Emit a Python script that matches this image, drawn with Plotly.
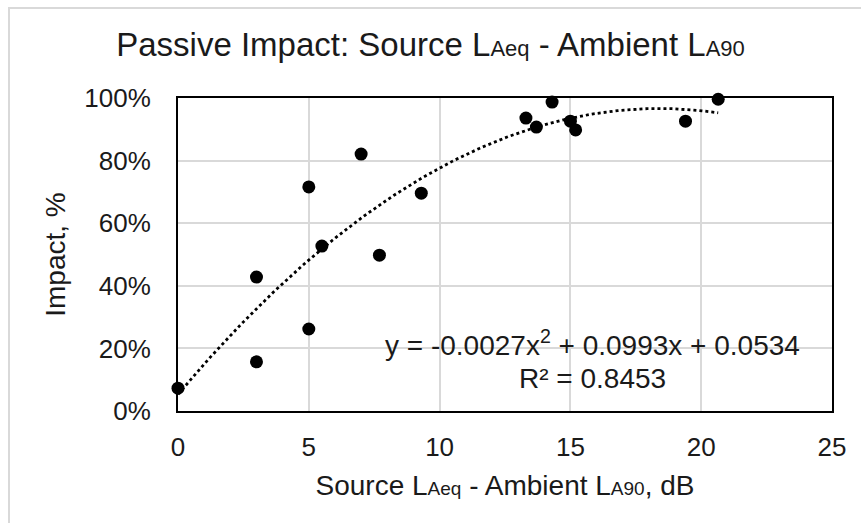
import numpy as np
import plotly.graph_objects as go

# Data
diff_db = [0, 3, 3, 5, 5, 5.5, 7, 7.7, 9.3, 13.3, 13.7, 14.3, 15.0, 15.2, 19.4, 20.65]
impact = [0.073, 0.157, 0.428, 0.262, 0.716, 0.527, 0.821, 0.498, 0.696,
          0.936, 0.907, 0.987, 0.926, 0.898, 0.926, 0.996]
trend_coef = [-0.0027, 0.0993, 0.0534]  # quadratic trendline as shown
x_ticks = [0, 5, 10, 15, 20, 25]
y_ticks = [0, 0.2, 0.4, 0.6, 0.8, 1.0]

FONT = "Liberation Sans, Arial, sans-serif"
W, H = 861, 523
L, R, T, B = 178, 29, 98, 112

tx = np.linspace(0, max(diff_db), 200)
ty = np.polyval(trend_coef, tx)

fig = go.Figure()
fig.add_trace(go.Scatter(x=tx, y=ty, mode="lines",
                         line=dict(color="black", width=2.8, dash="dot"),
                         hoverinfo="skip", showlegend=False))
fig.add_trace(go.Scatter(x=diff_db, y=impact, mode="markers",
                         marker=dict(color="black", size=13),
                         showlegend=False, cliponaxis=False))

pw, ph = W - L - R, H - T - B
def px(xp):
    return (xp - L) / pw
def py(yp):
    return (H - B - yp) / ph

# Light gray chart-area border (left and top)
fig.add_shape(type="path", xref="paper", yref="paper",
              path=f"M {px(9)} {py(530)} L {px(9)} {py(8)} L {px(870)} {py(8)}",
              line=dict(color="#d9d9d9", width=2), layer="above")

fig.add_annotation(x=px(592), y=py(343), xref="paper", yref="paper",
                   text="y = -0.0027x<sup>2</sup> + 0.0993x + 0.0534",
                   showarrow=False, font=dict(family=FONT, size=28, color="#1a1a1a"),
                   xanchor="center", yanchor="middle")
fig.add_annotation(x=px(592), y=py(378), xref="paper", yref="paper",
                   text="R² = 0.8453",
                   showarrow=False, font=dict(family=FONT, size=28, color="#1a1a1a"),
                   xanchor="center", yanchor="middle")

def sub(s, size):
    return f'<span style="font-size:{size}px">{s}</span>'

fig.update_layout(
    width=W, height=H,
    margin=dict(l=L, r=R, t=T, b=B),
    paper_bgcolor="white", plot_bgcolor="white",
    font=dict(family=FONT, size=26, color="#1a1a1a"),
    title=dict(text="Passive Impact: Source L" + sub("Aeq", 22) + " - Ambient L" + sub("A90", 22),
               x=0.5, xanchor="center", y=1 - 44 / H, yanchor="middle",
               font=dict(family=FONT, size=33, color="#1a1a1a")),
    xaxis=dict(range=[0, 25], tickvals=x_ticks, showgrid=True, gridcolor="#d9d9d9", gridwidth=1.5,
               showline=True, linecolor="black", linewidth=2, mirror=True, zeroline=False,
               ticks="", tickfont=dict(size=26), ticklabelstandoff=12,
               title=dict(text="Source L" + sub("Aeq", 19) + " - Ambient L" + sub("A90", 19) + ", dB",
                          font=dict(size=28), standoff=14)),
    yaxis=dict(range=[0, 1.0], tickvals=y_ticks, tickformat=".0%", showgrid=True, gridcolor="#d9d9d9",
               gridwidth=1.5, showline=True, linecolor="black", linewidth=2, mirror=True,
               zeroline=False, ticks="", tickfont=dict(size=26), ticklabelstandoff=20,
               title=dict(text="Impact, %", font=dict(size=28), standoff=10)),
)

fig.write_html("out.html")
